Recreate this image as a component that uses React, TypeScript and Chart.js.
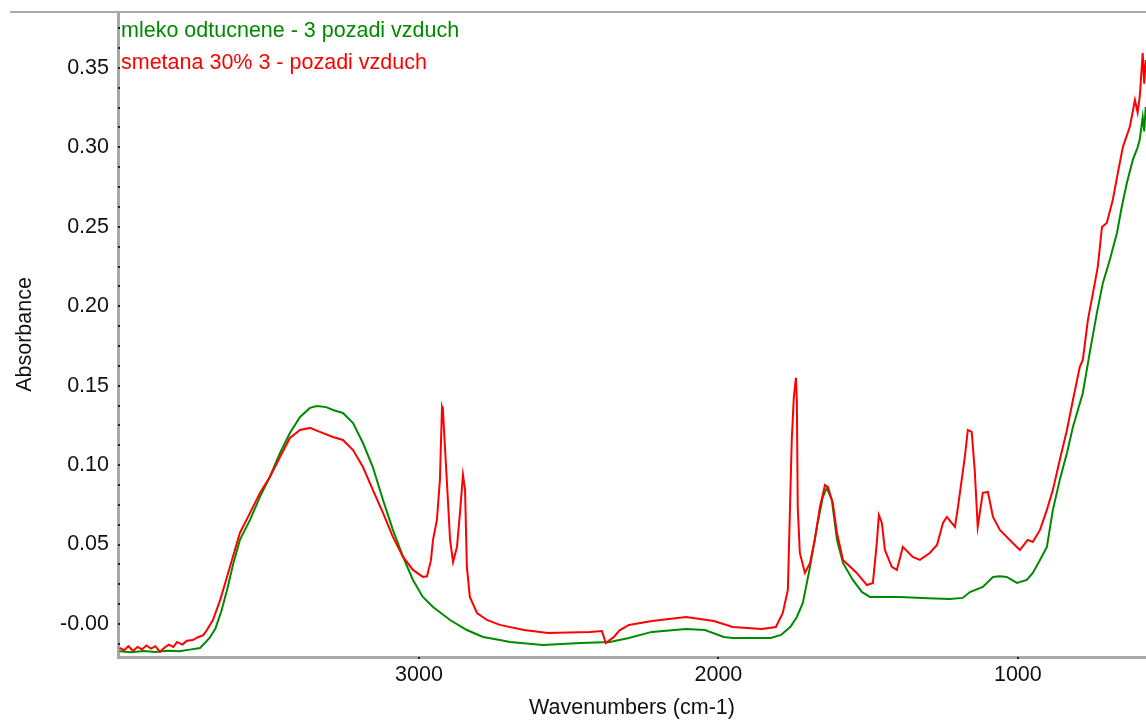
import React, { useEffect, useRef } from 'react';
import { Chart, registerables } from 'chart.js';

Chart.register(...registerables);

const GREEN_LABEL = 'mleko odtucnene - 3 pozadi vzduch';
const RED_LABEL = 'smetana 30% 3 - pozadi vzduch';
const GREEN_COLOR = '#008a00';
const RED_COLOR = '#ff0000';

const GREEN_WN = [
  4000, 3960, 3920, 3880, 3840, 3800, 3760, 3731, 3700, 3680, 3660, 3640, 3620, 3598, 3564, 3531,
  3498, 3464, 3431, 3397, 3364, 3341, 3310, 3287, 3254, 3220, 3187, 3154, 3120, 3087, 3053, 3020,
  2987, 2953, 2896, 2840, 2786, 2730, 2696, 2586, 2459, 2362, 2299, 2222, 2108, 2045, 1982, 1952,
  1825, 1791, 1760, 1738, 1718, 1694, 1671, 1651, 1638, 1621, 1604, 1584, 1551, 1520, 1494, 1394,
  1300, 1227, 1184, 1160, 1117, 1083, 1060, 1037, 1003, 970, 950, 926, 903, 883, 860, 836,
  816, 783, 760, 736, 716, 693, 669, 653, 636, 616, 600, 593, 583, 578, 573,
];
const GREEN_ABS = [
  -0.0172, -0.0178, -0.017, -0.0176, -0.0168, -0.0172, -0.016, -0.0151, -0.009, -0.003, 0.008, 0.022, 0.038, 0.0529, 0.0655, 0.08,
  0.0925, 0.1076, 0.1202, 0.1303, 0.136, 0.1372, 0.1365, 0.1347, 0.1328, 0.1265, 0.1139, 0.0988, 0.078, 0.0592, 0.0422, 0.0277,
  0.017, 0.0107, 0.0025, -0.0038, -0.0082, -0.0101, -0.0113, -0.0132, -0.012, -0.0113, -0.0088, -0.005, -0.0031, -0.0038, -0.0082, -0.0088,
  -0.0088, -0.0069, -0.002, 0.0044, 0.0132, 0.0359, 0.0611, 0.08, 0.0856, 0.078, 0.0529, 0.0384, 0.0277, 0.02, 0.017, 0.017,
  0.0162, 0.0157, 0.0164, 0.0201, 0.0233, 0.0296, 0.03, 0.0296, 0.0258, 0.0277, 0.0321, 0.0403, 0.0485, 0.0718, 0.0906, 0.1076,
  0.124, 0.1454, 0.1706, 0.1958, 0.2147, 0.2291, 0.2461, 0.2625, 0.2776, 0.2921, 0.3, 0.3047, 0.3191, 0.31, 0.3254,
];

const RED_WN = [
  4000, 3985, 3970, 3955, 3940, 3925, 3910, 3895, 3880, 3865, 3850, 3835, 3820, 3808, 3790, 3775,
  3755, 3740, 3720, 3708, 3688, 3664, 3645, 3625, 3598, 3564, 3531, 3498, 3464, 3431, 3397, 3364,
  3331, 3287, 3254, 3220, 3187, 3154, 3120, 3087, 3053, 3020, 2987, 2973, 2960, 2953, 2940, 2930,
  2923, 2920, 2907, 2896, 2886, 2873, 2863, 2853, 2846, 2840, 2830, 2806, 2773, 2730, 2649, 2569,
  2429, 2389, 2376, 2362, 2349, 2330, 2299, 2222, 2108, 2015, 1952, 1855, 1808, 1785, 1768, 1755,
  1748, 1741, 1738, 1735, 1728, 1711, 1694, 1678, 1661, 1644, 1634, 1618, 1604, 1584, 1538, 1504,
  1484, 1471, 1464, 1454, 1444, 1421, 1404, 1384, 1351, 1327, 1294, 1270, 1250, 1237, 1210, 1200,
  1177, 1167, 1154, 1144, 1134, 1117, 1100, 1083, 1060, 1017, 993, 967, 950, 926, 903, 883,
  860, 836, 816, 793, 783, 766, 749, 733, 719, 703, 683, 666, 649, 626, 609, 600,
  593, 588, 583, 578, 573,
];
const RED_ABS = [
  -0.015, -0.0165, -0.014, -0.017, -0.0145, -0.016, -0.0135, -0.0155, -0.014, -0.0175, -0.015, -0.013, -0.0145, -0.0113, -0.013, -0.0105,
  -0.0101, -0.0085, -0.007, -0.0038, 0.0025, 0.015, 0.027, 0.04, 0.0573, 0.0699, 0.0825, 0.0925, 0.1051, 0.1171, 0.1221, 0.1234,
  0.1209, 0.1177, 0.1158, 0.1095, 0.0988, 0.0844, 0.0699, 0.0548, 0.0422, 0.034, 0.0296, 0.03, 0.04, 0.0529, 0.0655, 0.0906,
  0.1366, 0.1347, 0.0906, 0.0529, 0.039, 0.0485, 0.0699, 0.0938, 0.0844, 0.0359, 0.017, 0.0069, 0.0025, -0.0006, -0.0038, -0.0057,
  -0.005, -0.0044, -0.012, -0.01, -0.0082, -0.004, -0.0006, 0.0019, 0.0044, 0.0019, -0.0019, -0.0031, -0.0019, 0.0069, 0.0214, 0.1158,
  0.1429, 0.1549, 0.141, 0.0736, 0.0447, 0.0321, 0.0384, 0.0529, 0.0736, 0.0875, 0.0862, 0.0762, 0.0573, 0.0403, 0.0321, 0.0245,
  0.0258, 0.051, 0.0686, 0.0636, 0.0466, 0.0359, 0.034, 0.0485, 0.0422, 0.0403, 0.0447, 0.0497, 0.0636, 0.0674, 0.0611, 0.0736,
  0.1051, 0.1221, 0.1209, 0.0969, 0.0611, 0.0825, 0.0831, 0.0674, 0.0592, 0.051, 0.0466, 0.0529, 0.0516, 0.0592, 0.0718, 0.0844,
  0.1032, 0.1221, 0.141, 0.1618, 0.1662, 0.1914, 0.2084, 0.2247, 0.2499, 0.2524, 0.2669, 0.2839, 0.3003, 0.3129, 0.3298, 0.322,
  0.3317, 0.345, 0.3594, 0.34, 0.355,
];

const X_TICKS = [3000, 2000, 1000];
const Y_TICKS = [0, 0.05, 0.1, 0.15, 0.2, 0.25, 0.3, 0.35];
const Y_TICK_LABELS = ['-0.00', '0.05', '0.10', '0.15', '0.20', '0.25', '0.30', '0.35'];
const Y_MINOR_STEP = 0.0125;
const X_MIN = 572;
const X_MAX = 4005;
const Y_MIN = -0.0208;
const Y_MAX = 0.3852;

const FONT = '"Liberation Sans", Arial, sans-serif';
const FONT_SIZE = 21.5;

const framePlugin = {
  id: 'frame',
  afterDraw(chart: any) {
    const ctx = chart.ctx;
    const { left, top, bottom } = chart.chartArea;
    ctx.save();
    ctx.fillStyle = '#a9a9a9';
    ctx.fillRect(10, top - 1, chart.width - 10, 2);
    const ys = chart.scales.y;
    const xs = chart.scales.x;
    ctx.fillStyle = '#222222';
    for (let v = -0.0125; v <= Y_MAX; v += Y_MINOR_STEP) {
      const py = Math.round(ys.getPixelForValue(v));
      ctx.fillRect(left, py - 1, 2, 2);
    }
    for (const v of X_TICKS) {
      const px = Math.round(xs.getPixelForValue(v));
      ctx.fillRect(px - 1, bottom, 2, 2);
    }
    ctx.font = `${FONT_SIZE}px ${FONT}`;
    ctx.textAlign = 'left';
    ctx.textBaseline = 'alphabetic';
    ctx.fillStyle = GREEN_COLOR;
    ctx.fillText(GREEN_LABEL, left + 3, top + 25);
    ctx.fillStyle = RED_COLOR;
    ctx.fillText(RED_LABEL, left + 3, top + 57);
    ctx.restore();
  },
};

export default function App() {
  const ref = useRef<HTMLCanvasElement | null>(null);
  useEffect(() => {
    if (!ref.current) return;
    const green = GREEN_WN.map((x, i) => ({ x, y: GREEN_ABS[i] }));
    const red = RED_WN.map((x, i) => ({ x, y: RED_ABS[i] }));
    const chart = new Chart(ref.current, {
      type: 'line',
      data: {
        datasets: [
          { label: GREEN_LABEL, data: green, borderColor: GREEN_COLOR, borderWidth: 2, pointRadius: 0, tension: 0, order: 1 },
          { label: RED_LABEL, data: red, borderColor: RED_COLOR, borderWidth: 2, pointRadius: 0, tension: 0, order: 0 },
        ],
      },
      options: {
        animation: false,
        responsive: false,
        devicePixelRatio: 1,
        layout: { padding: { top: 12, left: 0, right: 0, bottom: 0 } },
        plugins: { legend: { display: false }, tooltip: { enabled: false } },
        scales: {
          x: {
            type: 'linear',
            reverse: true,
            min: X_MIN,
            max: X_MAX,
            afterFit: (s: any) => { s.height = 69; s.paddingLeft = 0; s.paddingRight = 0; },
            afterBuildTicks: (s: any) => { s.ticks = X_TICKS.map((v) => ({ value: v })); },
            grid: { display: false, drawTicks: false },
            border: { display: true, color: '#a9a9a9', width: 3 },
            ticks: {
              padding: 5,
              color: '#111111',
              font: { family: FONT, size: FONT_SIZE },
              maxRotation: 0,
              callback: (v: any) => String(v),
            },
            title: {
              display: true,
              text: 'Wavenumbers (cm-1)',
              color: '#111111',
              font: { family: FONT, size: FONT_SIZE },
              padding: { top: 0, bottom: 5 },
            },
          },
          y: {
            type: 'linear',
            min: Y_MIN,
            max: Y_MAX,
            afterFit: (s: any) => { s.width = 118; s.paddingTop = 0; s.paddingBottom = 0; },
            afterBuildTicks: (s: any) => { s.ticks = Y_TICKS.map((v) => ({ value: v })); },
            grid: { display: false, drawTicks: false },
            border: { display: true, color: '#a9a9a9', width: 3 },
            ticks: {
              padding: 9,
              color: '#111111',
              font: { family: FONT, size: FONT_SIZE },
              callback: (v: any) => {
                const i = Y_TICKS.findIndex((t) => Math.abs(t - v) < 1e-9);
                return i >= 0 ? Y_TICK_LABELS[i] : '';
              },
            },
            title: {
              display: true,
              text: 'Absorbance',
              color: '#111111',
              font: { family: FONT, size: FONT_SIZE },
              padding: { top: 12, bottom: 0 },
            },
          },
        },
      },
      plugins: [framePlugin],
    });
    return () => chart.destroy();
  }, []);
  return (
    <div style={{ position: 'fixed', left: 0, top: 0, width: 1146, height: 726, background: '#ffffff' }}>
      <canvas ref={ref} width={1146} height={726} style={{ display: 'block', width: 1146, height: 726 }} />
    </div>
  );
}
